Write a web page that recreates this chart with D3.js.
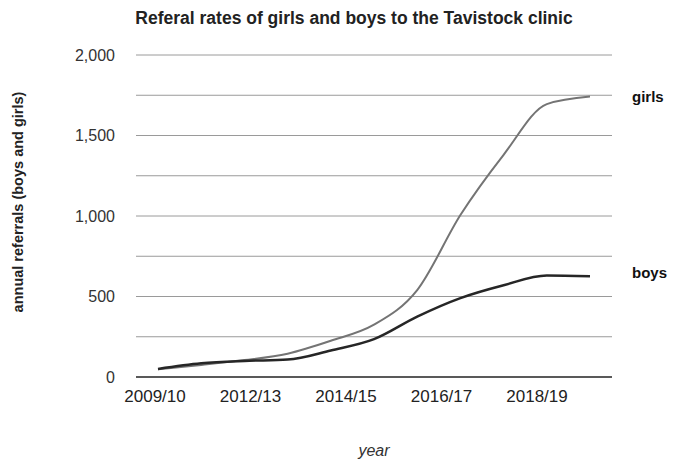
<!DOCTYPE html>
<head>
<meta charset="utf-8">
<script src="https://d3js.org/d3.v7.min.js"></script>
<style>
  body { margin: 0; background: #fff; }
</style>
</head>
<body>
<svg width="691" height="459" font-family="'Liberation Sans', Arial, sans-serif"></svg>
<script>

// values
let years = ["2009/10", "2010/11", "2011/12", "2012/13", "2013/14", "2014/15",
             "2015/16", "2016/17", "2017/18", "2018/19", "2019/20"];
let girls = [48, 75, 105, 145, 225, 325, 540, 1006, 1380, 1695, 1742];
let boys  = [50, 85, 100, 108, 165, 235, 375, 490, 570, 630, 625];
let xTickLabels = ["2009/10", "2012/13", "2014/15", "2016/17", "2018/19"];
let yTicks = [0, 500, 1000, 1500, 2000];
let gridTicks = [0, 250, 500, 750, 1000, 1250, 1500, 1750, 2000];

let svg = d3.select("svg");

let x = d3.scalePoint().domain(years).range([158, 590]);
let xLab = d3.scalePoint().domain(xTickLabels).range([155, 537]);
let y = d3.scaleLinear().domain([0, 2000]).range([377, 55]);

// title
svg.append("text")
    .attr("x", 354)
    .attr("y", 24)
    .attr("text-anchor", "middle")
    .attr("font-size", 17.5)
    .attr("font-weight", "bold")
    .attr("fill", "#222")
    .text("Referal rates of girls and boys to the Tavistock clinic");

// grid
svg.append("g")
  .selectAll("line")
  .data(gridTicks.slice(1))
  .enter().append("line")
    .attr("x1", 136)
    .attr("x2", 612)
    .attr("y1", d => y(d))
    .attr("y2", d => y(d))
    .attr("stroke", "#9a9a9a")
    .attr("stroke-width", 1);

svg.append("line")
    .attr("x1", 136)
    .attr("x2", 612)
    .attr("y1", y(0))
    .attr("y2", y(0))
    .attr("stroke", "#222")
    .attr("stroke-width", 1.5);

// y labels
svg.append("g")
  .selectAll("text")
  .data(yTicks)
  .enter().append("text")
    .attr("x", 115)
    .attr("y", d => y(d))
    .attr("dy", "0.35em")
    .attr("text-anchor", "end")
    .attr("font-size", 16)
    .attr("fill", "#333")
    .text(d3.format(","));

// x labels
svg.append("g")
  .selectAll("text")
  .data(xTickLabels)
  .enter().append("text")
    .attr("x", d => xLab(d))
    .attr("y", 402)
    .attr("text-anchor", "middle")
    .attr("font-size", 17)
    .attr("fill", "#222")
    .text(d => d);

// axis titles
svg.append("text")
    .attr("transform", "translate(23,202)rotate(-90)")
    .attr("text-anchor", "middle")
    .attr("font-size", 14.5)
    .attr("font-weight", "bold")
    .attr("fill", "#222")
    .text("annual referrals (boys and girls)");

svg.append("text")
    .attr("x", 374)
    .attr("y", 456)
    .attr("text-anchor", "middle")
    .attr("font-size", 16)
    .attr("font-style", "italic")
    .attr("fill", "#333")
    .text("year");

// lines
let line = d3.line()
    .x((d, i) => x(years[i]))
    .y(d => y(d))
    .curve(d3.curveMonotoneX);

svg.append("path")
    .attr("d", line(girls))
    .attr("fill", "none")
    .attr("stroke", "#747474")
    .attr("stroke-width", 2);

svg.append("path")
    .attr("d", line(boys))
    .attr("fill", "none")
    .attr("stroke", "#262626")
    .attr("stroke-width", 2.5);

// series labels
let series = [["girls", girls], ["boys", boys]];
svg.append("g")
  .selectAll("text")
  .data(series)
  .enter().append("text")
    .attr("x", 632)
    .attr("y", d => y(d[1][d[1].length - 1]) + (d[0] === "boys" ? -4 : 0))
    .attr("dy", "0.35em")
    .attr("font-size", 15)
    .attr("font-weight", "bold")
    .attr("fill", "#111")
    .text(d => d[0]);

</script>
</body>
